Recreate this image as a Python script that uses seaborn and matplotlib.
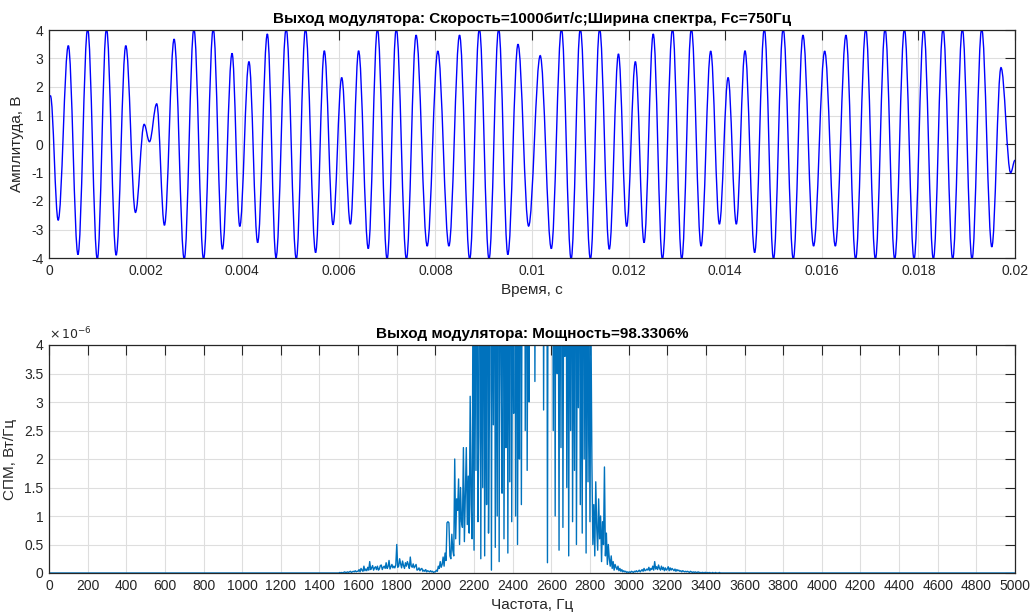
import numpy as np
import pandas as pd
import matplotlib
matplotlib.use("Agg")
import matplotlib.pyplot as plt
from matplotlib.path import Path
from matplotlib.patches import PathPatch
import seaborn as sns

# ---- modulator output: extrema of the waveform (time in ms, amplitude in V) ----
t_ms = [0, 0.03, 0.19, 0.40, 0.60, 0.80, 1.00, 1.19, 1.39, 1.59,
        1.79, 1.97, 2.08, 2.23, 2.39, 2.59, 2.80, 3.00, 3.20, 3.40,
        3.59, 3.79, 3.95, 4.14, 4.32, 4.52, 4.70, 4.91, 5.12, 5.31,
        5.52, 5.70, 5.88, 6.06, 6.24, 6.41, 6.61, 6.80, 7.00, 7.19,
        7.40, 7.60, 7.83, 8.05, 8.28, 8.50, 8.71, 8.91, 9.11, 9.31,
        9.50, 9.71, 9.93, 10.17, 10.40, 10.61, 10.81, 11.00, 11.21, 11.40,
        11.60, 11.79, 11.96, 12.14, 12.32, 12.51, 12.70, 12.91, 13.10, 13.30,
        13.50, 13.70, 13.88, 14.06, 14.23, 14.41, 14.61, 14.81, 15.00, 15.20,
        15.41, 15.61, 15.83, 16.06, 16.28, 16.50, 16.70, 16.91, 17.11, 17.31,
        17.51, 17.71, 17.91, 18.11, 18.31, 18.51, 18.71, 18.91, 19.11, 19.31,
        19.52, 19.71, 19.91, 20.0]
amp_v = [1.69, 1.69, -2.67, 3.45, -3.88, 4.05, -4.05, 4.05, -3.9, 3.45,
         -2.40, 0.69, 0.08, 1.41, -2.85, 3.68, -4.05, 4.05, -4.05, 4.05,
         -3.69, 3.18, -2.89, 2.89, -3.46, 3.86, -3.99, 4.05, -4.05, 4.05,
         -3.81, 3.27, -2.83, 2.33, -2.81, 3.27, -3.67, 4.05, -4.05, 4.05,
         -4.05, 3.82, -3.58, 3.26, -3.58, 3.82, -4.05, 4.05, -4.05, 4.05,
         -3.88, 3.50, -2.88, 3.10, -3.67, 4.05, -4.05, 4.05, -4.05, 4.05,
         -3.69, 3.16, -2.89, 2.89, -3.46, 3.86, -4.05, 4.05, -4.05, 4.05,
         -3.58, 3.26, -2.81, 2.33, -2.81, 3.27, -3.81, 4.05, -4.05, 4.05,
         -4.05, 3.82, -3.58, 3.26, -3.58, 3.82, -4.05, 4.05, -4.05, 4.05,
         -4.05, 4.05, -4.05, 4.05, -4.05, 4.05, -4.05, 4.05, -4.05, 4.05,
         -3.61, 2.68, -1.01, -0.57]

# ---- power spectral density (x1e-6 W/Hz), 5 Hz bins from 1500 to 3495 Hz ----
band_start_hz = 1500
bin_hz = 5
psd_band = [
    0.00, 0.01, 0.00, 0.01, 0.00, 0.01, 0.02, 0.01, 0.01, 0.02, 0.01, 0.02, 0.03, 0.01, 0.02, 0.03, 0.02, 0.04, 0.02, 0.03,
    0.03, 0.06, 0.02, 0.08, 0.05, 0.03, 0.12, 0.04, 0.07, 0.04, 0.10, 0.05, 0.20, 0.06, 0.09, 0.13, 0.05, 0.09, 0.11, 0.06,
    0.12, 0.05, 0.07, 0.13, 0.14, 0.06, 0.10, 0.12, 0.08, 0.18, 0.08, 0.11, 0.22, 0.07, 0.11, 0.15, 0.09, 0.12, 0.09, 0.14,
    0.50, 0.10, 0.12, 0.25, 0.16, 0.09, 0.21, 0.13, 0.08, 0.18, 0.12, 0.20, 0.15, 0.08, 0.28, 0.12, 0.10, 0.16, 0.09, 0.12,
    0.15, 0.05, 0.06, 0.09, 0.04, 0.07, 0.08, 0.03, 0.05, 0.03, 0.06, 0.02, 0.04, 0.03, 0.02, 0.04, 0.02, 0.03, 0.01, 0.02,
    0.02, 0.05, 0.03, 0.12, 0.08, 0.20, 0.10, 0.15, 0.28, 0.12, 0.35, 0.22, 0.88, 0.90, 0.88, 0.30, 0.25, 0.68, 0.40, 0.30,
    2.00, 0.60, 1.30, 1.10, 1.65, 0.50, 1.50, 0.90, 0.80, 2.20, 0.55, 1.40, 2.20, 0.85, 1.70, 0.70, 3.10, 1.20, 0.60, 5.50,
    0.40, 7.00, 1.80, 9.00, 0.90, 2.40, 11.0, 0.25, 6.00, 1.50, 8.50, 0.30, 4.80, 1.20, 10.0, 0.70, 3.20, 12.0, 0.05, 7.50,
    2.60, 9.00, 0.45, 6.50, 1.00, 13.0, 0.20, 8.00, 3.50, 1.40, 10.5, 0.60, 5.00, 2.20, 9.50, 0.35, 7.00, 1.60, 11.0, 0.90,
    6.00, 2.80, 12.0, 1.00, 8.50, 0.50, 5.50, 2.00, 10.0, 1.20, 7.00, 4.20, 13.0, 2.50, 9.00, 1.80, 6.50, 3.00, 11.0, 4.50,
    8.00, 5.50, 12.0, 3.36, 9.00, 6.50, 14.0, 10.0, 7.00, 15.0, 9.50, 12.0, 2.86, 8.00, 6.00, 11.0, 0.18, 9.50, 7.50, 13.0,
    4.00, 10.0, 2.50, 8.50, 1.00, 12.0, 3.50, 7.00, 0.40, 9.00, 2.20, 11.0, 0.80, 6.50, 3.80, 10.0, 1.50, 8.00, 0.30, 7.00,
    2.50, 9.00, 0.90, 6.00, 1.80, 11.0, 0.50, 5.50, 2.90, 8.50, 1.20, 4.80, 0.70, 10.0, 2.00, 6.50, 0.35, 7.50, 1.60, 5.00,
    0.90, 4.50, 1.95, 0.50, 1.20, 0.30, 1.60, 0.80, 0.40, 1.30, 0.60, 1.00, 0.20, 0.90, 0.50, 1.86, 0.30, 0.70, 0.15, 0.50,
    0.25, 0.12, 0.30, 0.08, 0.20, 0.05, 0.15, 0.10, 0.06, 0.12, 0.04, 0.08, 0.03, 0.06, 0.02, 0.04, 0.02, 0.03, 0.01, 0.02,
    0.01, 0.02, 0.01, 0.03, 0.02, 0.01, 0.03, 0.02, 0.04, 0.02, 0.03, 0.05, 0.02, 0.04, 0.06, 0.03, 0.08, 0.04, 0.05, 0.07,
    0.05, 0.10, 0.04, 0.08, 0.06, 0.12, 0.05, 0.20, 0.07, 0.11, 0.06, 0.14, 0.08, 0.05, 0.12, 0.06, 0.10, 0.04, 0.09, 0.05,
    0.07, 0.11, 0.04, 0.09, 0.05, 0.08, 0.06, 0.04, 0.07, 0.03, 0.06, 0.04, 0.05, 0.03, 0.04, 0.02, 0.04, 0.03, 0.02, 0.03,
    0.02, 0.03, 0.02, 0.01, 0.03, 0.02, 0.01, 0.02, 0.01, 0.02, 0.01, 0.01, 0.02, 0.01, 0.01, 0.00, 0.01, 0.01, 0.00, 0.01,
    0.01, 0.00, 0.01, 0.00, 0.01, 0.00, 0.00, 0.01, 0.00, 0.00, 0.01, 0.00, 0.00, 0.00, 0.01, 0.00, 0.00, 0.00, 0.00, 0.00,
]
f_max_hz = 5000

time_ticks = [0, 0.002, 0.004, 0.006, 0.008, 0.01, 0.012, 0.014, 0.016, 0.018, 0.02]
time_tick_labels = ["0", "0.002", "0.004", "0.006", "0.008", "0.01",
                    "0.012", "0.014", "0.016", "0.018", "0.02"]
amp_ticks = [-4, -3, -2, -1, 0, 1, 2, 3, 4]
freq_ticks = list(range(0, 5001, 200))
psd_ticks = [0, 0.5, 1, 1.5, 2, 2.5, 3, 3.5, 4]
psd_tick_labels = ["0", "0.5", "1", "1.5", "2", "2.5", "3", "3.5", "4"]

title_top = "Выход модулятора: Скорость=1000бит/с;Ширина спектра, Fc=750Гц"
title_bottom = "Выход модулятора: Мощность=98.3306%"

# ---- data frames ----
sig = pd.DataFrame({"t": np.array(t_ms) / 1000.0, "v": amp_v})
freqs = np.arange(0, f_max_hz + bin_hz, bin_hz)
psd = np.zeros(len(freqs))
i0 = band_start_hz // bin_hz
psd[i0:i0 + len(psd_band)] = psd_band
spec = pd.DataFrame({"f": freqs, "p": psd})

# ---- style ----
sns.set_style("white")
plt.rcParams["font.family"] = ["Liberation Sans", "DejaVu Sans"]
plt.rcParams["axes.unicode_minus"] = False
plt.rcParams["axes.linewidth"] = 0.9
txt = "#262626"

fig = plt.figure(figsize=(10.31, 6.12), dpi=100)
ax1 = fig.add_axes([49 / 1031, 1 - 258 / 612, 966 / 1031, 228 / 612])
ax2 = fig.add_axes([49 / 1031, 1 - 573 / 612, 966 / 1031, 228 / 612])


def style_axes(ax):
    ax.grid(True, color="#dedede", linewidth=0.8)
    ax.set_axisbelow(True)
    for s in ax.spines.values():
        s.set_color(txt)
        s.set_visible(True)
    ax.tick_params(direction="in", length=7, width=0.8, colors=txt,
                   labelsize=10, top=True, right=True, pad=4)


def smooth_line(ax, line, k=0.364):
    """Redraw a polyline through its extrema as cubic Bezier arcs with flat tangents."""
    xy = line.get_xydata()
    verts = [tuple(xy[0])]
    codes = [Path.MOVETO]
    for (x0, y0), (x1, y1) in zip(xy[:-1], xy[1:]):
        d = x1 - x0
        verts += [(x0 + k * d, y0), (x1 - k * d, y1), (x1, y1)]
        codes += [Path.CURVE4] * 3
    patch = PathPatch(Path(verts, codes), facecolor="none",
                      edgecolor=line.get_color(), linewidth=line.get_linewidth())
    ax.add_patch(patch)
    line.remove()


sns.lineplot(data=sig, x="t", y="v", ax=ax1, color="#0000ff",
             linewidth=1.0, estimator=None, sort=False)
smooth_line(ax1, ax1.lines[0])
ax1.set_xlim(0, 0.02)
ax1.set_ylim(-4, 4)
ax1.set_xticks(time_ticks)
ax1.set_xticklabels(time_tick_labels)
ax1.set_yticks(amp_ticks)
style_axes(ax1)
ax1.set_xlabel("Время, с", fontsize=11, color=txt, labelpad=4)
ax1.set_ylabel("Амплитуда, В", fontsize=11, color=txt, labelpad=5)
ax1.set_title(title_top, fontsize=11, fontweight="bold", color="black", pad=5)

sns.lineplot(data=spec, x="f", y="p", ax=ax2, color="#0072bd",
             linewidth=1.0, estimator=None, sort=False)
ax2.set_xlim(0, f_max_hz)
ax2.set_ylim(0, 4)
ax2.set_xticks(freq_ticks)
ax2.set_yticks(psd_ticks)
ax2.set_yticklabels(psd_tick_labels)
style_axes(ax2)
ax2.set_xlabel("Частота, Гц", fontsize=11, color=txt, labelpad=4)
ax2.set_ylabel("СПМ, Вт/Гц", fontsize=11, color=txt, labelpad=5)
ax2.set_title(title_bottom, fontsize=11, fontweight="bold", color="black", pad=5)
ax2.text(0.0, 1.01, r"$\times\,10^{-6}$", transform=ax2.transAxes,
         fontsize=9, color=txt, ha="left", va="bottom")

fig.savefig("out.png", dpi=100)
